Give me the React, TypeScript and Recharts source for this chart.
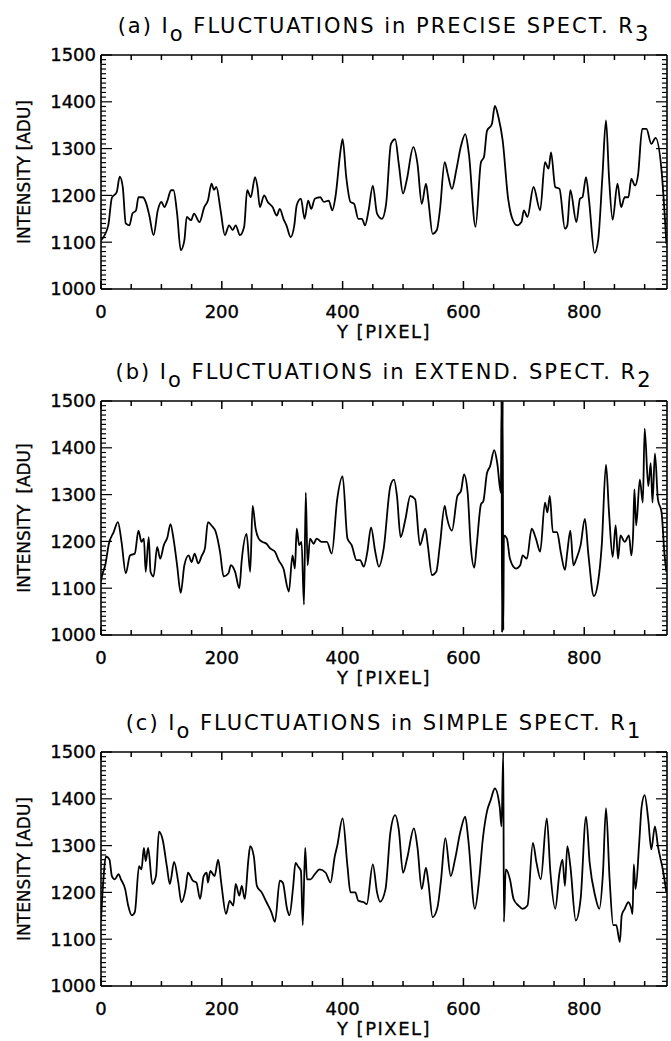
import React from 'react';
import { LineChart, Line, XAxis, YAxis } from 'recharts';

// --- DATA ---
const pixelA = [
  0, 12, 18, 26, 31, 36, 41, 47, 52, 58, 62, 69, 74, 80, 87, 94, 100, 105, 110, 116,
  120, 126, 132, 138, 142, 149, 154, 163, 171, 177, 183, 187, 191, 198, 205, 212, 218, 223, 230, 237,
  242, 248, 255, 259, 263, 270, 276, 284, 291, 296, 302, 307, 314, 320, 324, 331, 337, 343, 348, 354,
  363, 369, 377, 383, 388, 397, 400, 406, 413, 419, 426, 432, 437, 443, 450, 457, 465, 472, 480, 487,
  493, 500, 506, 517, 524, 531, 538, 542, 549, 556, 561, 569, 574, 581, 588, 596, 603, 609, 620, 629,
  634, 639, 647, 652, 658, 665, 674, 680, 689, 696, 700, 706, 716, 727, 735, 741, 745, 752, 759, 768,
  772, 777, 787, 793, 797, 803, 808, 817, 823, 830, 836, 841, 847, 855, 861, 867, 873, 878, 884, 889,
  896, 903, 911, 918, 928, 936,
];
const intensityA = [
  1104, 1136, 1195, 1207, 1240, 1218, 1140, 1136, 1161, 1168, 1196, 1196, 1186, 1157, 1115, 1168, 1186, 1175, 1189, 1211,
  1211, 1161, 1083, 1104, 1154, 1147, 1161, 1143, 1175, 1189, 1225, 1212, 1218, 1168, 1115, 1136, 1126, 1136, 1115, 1133,
  1211, 1196, 1239, 1218, 1175, 1200, 1186, 1175, 1157, 1171, 1150, 1136, 1111, 1136, 1179, 1193, 1150, 1189, 1171, 1193,
  1196, 1186, 1189, 1168, 1196, 1300, 1320, 1239, 1186, 1182, 1150, 1150, 1136, 1168, 1221, 1161, 1150, 1182, 1310, 1320,
  1267, 1204, 1232, 1303, 1267, 1182, 1225, 1189, 1118, 1126, 1168, 1271, 1246, 1214, 1253, 1306, 1331, 1289, 1133, 1271,
  1282, 1338, 1352, 1391, 1367, 1317, 1193, 1154, 1136, 1143, 1168, 1154, 1218, 1168, 1271, 1257, 1292, 1218, 1214, 1129,
  1136, 1211, 1143, 1193, 1196, 1239, 1189, 1077, 1104, 1239, 1360, 1239, 1148, 1225, 1175, 1196, 1196, 1235, 1221, 1243,
  1342, 1342, 1310, 1323, 1253, 1097,
];

const pixelB = [
  0, 2, 7, 13, 21, 28, 34, 41, 48, 56, 62, 67, 71, 74, 79, 82, 87, 93, 98, 104,
  110, 115, 120, 126, 132, 138, 145, 150, 155, 161, 167, 172, 177, 183, 190, 197, 203, 211, 215, 222,
  229, 233, 241, 247, 251, 256, 261, 267, 274, 280, 288, 294, 302, 311, 317, 321, 324, 328, 332, 336,
  339, 342, 346, 352, 357, 365, 374, 382, 391, 400, 408, 415, 423, 429, 435, 441, 447, 454, 460, 468,
  479, 485, 490, 496, 504, 512, 520, 528, 537, 541, 548, 555, 561, 569, 572, 581, 590, 596, 601, 607,
  612, 618, 622, 629, 633, 639, 644, 651, 656, 662, 663, 664, 665, 666, 667, 672, 677, 687, 694, 698,
  705, 713, 720, 727, 735, 739, 743, 748, 755, 761, 768, 772, 777, 782, 787, 794, 801, 807, 816, 823,
  829, 836, 841, 847, 852, 856, 860, 867, 874, 878, 881, 883, 886, 892, 897, 900, 906, 910, 913, 917,
  922, 928, 933, 936,
];
const intensityB = [
  1115, 1128, 1149, 1195, 1220, 1241, 1199, 1132, 1170, 1174, 1223, 1199, 1206, 1135, 1209, 1135, 1125, 1188, 1163, 1192,
  1209, 1237, 1206, 1149, 1090, 1149, 1170, 1156, 1174, 1153, 1170, 1185, 1241, 1234, 1220, 1178, 1125, 1132, 1149, 1135,
  1100, 1160, 1216, 1135, 1276, 1227, 1206, 1199, 1195, 1185, 1178, 1160, 1142, 1093, 1170, 1142, 1227, 1192, 1199, 1065,
  1304, 1149, 1206, 1195, 1206, 1199, 1199, 1174, 1290, 1339, 1206, 1192, 1160, 1160, 1146, 1178, 1230, 1178, 1146, 1185,
  1318, 1332, 1297, 1209, 1248, 1297, 1290, 1192, 1227, 1192, 1128, 1135, 1192, 1276, 1255, 1223, 1297, 1308, 1343, 1304,
  1192, 1144, 1192, 1279, 1286, 1346, 1360, 1395, 1367, 1304, 1500, 1005, 1500, 1010, 1213, 1206, 1163, 1142, 1149, 1170,
  1163, 1227, 1206, 1178, 1283, 1262, 1297, 1220, 1220, 1178, 1139, 1178, 1223, 1149, 1163, 1192, 1248, 1170, 1083, 1114,
  1192, 1364, 1262, 1167, 1234, 1163, 1213, 1199, 1213, 1170, 1220, 1311, 1234, 1332, 1283, 1441, 1318, 1367, 1283, 1388,
  1290, 1262, 1170, 1135,
];

const pixelC = [
  0, 4, 8, 14, 18, 23, 29, 33, 40, 45, 51, 56, 63, 67, 71, 74, 78, 85, 91, 96,
  102, 109, 114, 121, 128, 133, 140, 144, 152, 158, 164, 170, 175, 177, 181, 188, 194, 199, 207, 213,
  219, 223, 229, 233, 238, 244, 247, 253, 258, 266, 274, 282, 288, 296, 301, 308, 312, 318, 322, 326,
  331, 334, 338, 341, 347, 354, 362, 372, 380, 387, 391, 400, 408, 413, 421, 426, 435, 440, 450, 457,
  462, 471, 479, 487, 493, 500, 507, 518, 524, 531, 538, 542, 549, 557, 563, 570, 579, 586, 595, 603,
  608, 619, 626, 632, 639, 645, 652, 660, 663, 666, 667, 670, 677, 683, 691, 698, 706, 715, 721, 728,
  738, 744, 752, 759, 764, 768, 772, 777, 786, 794, 803, 809, 818, 825, 831, 836, 842, 848, 853, 859,
  862, 867, 873, 878, 880, 882, 885, 891, 895, 900, 906, 911, 917, 922, 931, 936,
];
const intensityC = [
  1140, 1228, 1277, 1270, 1235, 1228, 1239, 1228, 1207, 1172, 1151, 1158, 1256, 1249, 1295, 1267, 1295, 1218, 1235, 1330,
  1313, 1256, 1218, 1265, 1221, 1179, 1207, 1242, 1225, 1221, 1186, 1235, 1242, 1221, 1246, 1235, 1270, 1221, 1154, 1182,
  1172, 1218, 1193, 1214, 1186, 1270, 1299, 1277, 1214, 1200, 1179, 1158, 1137, 1225, 1221, 1165, 1151, 1211, 1263, 1256,
  1246, 1130, 1295, 1228, 1228, 1239, 1249, 1242, 1221, 1277, 1299, 1358, 1256, 1200, 1200, 1182, 1179, 1175, 1260, 1200,
  1180, 1207, 1327, 1365, 1334, 1242, 1274, 1337, 1295, 1207, 1253, 1221, 1147, 1168, 1228, 1316, 1235, 1270, 1330, 1362,
  1313, 1165, 1228, 1313, 1373, 1397, 1422, 1383, 1341, 1500, 1137, 1249, 1228, 1186, 1172, 1165, 1172, 1306, 1263, 1228,
  1358, 1242, 1165, 1242, 1270, 1214, 1299, 1256, 1140, 1186, 1362, 1263, 1193, 1165, 1242, 1380, 1228, 1130, 1130, 1094,
  1151, 1165, 1179, 1165, 1154, 1260, 1207, 1306, 1383, 1408, 1355, 1292, 1341, 1299, 1242, 1200,
];

const xTicks = [0, 50, 100, 150, 200, 250, 300, 350, 400, 450, 500, 550, 600, 650, 700, 750, 800, 850, 900];
const xLabelStep = 200;
const yLabels = [1000, 1100, 1200, 1300, 1400, 1500];
const yMinorStep = 10;
const yTicks = Array.from({ length: 51 }, (_, i) => 1000 + i * yMinorStep);

const FONT = '"DejaVu Sans", Verdana, sans-serif';
const W = 671;
const PANEL_H = 347;
const PLOT_H = 234;
const LEFT = 101;
const RIGHT = 4;
const TOP_AXIS_H = 10;
const TICK_W = 1.5;

// tick marks point into the plot, as in the IDL original
const BottomTick = (p: any) => {
  const v = p.payload.value;
  const major = v % xLabelStep === 0;
  return (
    <g>
      <path d={`M${p.x},${p.y}v${-(major ? 8 : 5)}`} stroke="#000" strokeWidth={TICK_W} fill="none" />
      {major && (
        <text x={p.x} y={p.y + 29} textAnchor="middle" fontSize={18} fontFamily={FONT} fill="#000" stroke="#000" strokeWidth={0.35}>
          {v}
        </text>
      )}
    </g>
  );
};

const TopTick = (p: any) => {
  const major = p.payload.value % xLabelStep === 0;
  return <path d={`M${p.x},${p.y}v${major ? 8 : 5}`} stroke="#000" strokeWidth={TICK_W} fill="none" />;
};

const LeftTick = (p: any) => {
  const v = p.payload.value;
  const major = yLabels.includes(v);
  return (
    <g>
      <path d={`M${p.x},${p.y}h${major ? 11 : 5}`} stroke="#000" strokeWidth={1.2} fill="none" />
      {major && (
        <text x={p.x - 5} y={p.y} dy="0.36em" textAnchor="end" fontSize={18} fontFamily={FONT} fill="#000" stroke="#000" strokeWidth={0.35}>
          {v}
        </text>
      )}
    </g>
  );
};

const RightTick = (p: any) => {
  const major = yLabels.includes(p.payload.value);
  return <path d={`M${p.x},${p.y}h${-(major ? 11 : 5)}`} stroke="#000" strokeWidth={1.2} fill="none" />;
};

interface PanelProps {
  letter: string;
  name: string;
  sub: string;
  yTitle: string;
  pixels: number[];
  values: number[];
  offset: number;
  plotTop: number;
}

const Panel: React.FC<PanelProps> = ({ letter, name, sub, yTitle, pixels, values, offset, plotTop }) => {
  const data = pixels.map((x, i) => ({ x, y: values[i] }));
  const mTop = plotTop - offset;
  const bottomH = PANEL_H - mTop - PLOT_H;
  const cx = LEFT + (W - LEFT - RIGHT) / 2;
  const frame = { stroke: '#000', strokeWidth: 1.6 };
  return (
    <div style={{ position: 'absolute', left: 0, top: offset, width: W, height: PANEL_H }}>
      <LineChart width={W} height={PANEL_H} data={data} margin={{ top: mTop - TOP_AXIS_H, right: 0, bottom: 0, left: 0 }}>
        <XAxis
          xAxisId="b"
          dataKey="x"
          type="number"
          domain={[0, 937]}
          allowDataOverflow
          ticks={xTicks}
          interval={0}
          height={bottomH}
          tickSize={0}
          tickMargin={0}
          tickLine={false}
          axisLine={frame}
          tick={<BottomTick />}
        />
        <XAxis
          xAxisId="t"
          orientation="top"
          dataKey="x"
          type="number"
          domain={[0, 937]}
          allowDataOverflow
          ticks={xTicks}
          interval={0}
          height={TOP_AXIS_H}
          tickSize={0}
          tickMargin={0}
          tickLine={false}
          axisLine={frame}
          tick={<TopTick />}
        />
        <YAxis
          yAxisId="l"
          type="number"
          domain={[1000, 1500]}
          allowDataOverflow
          ticks={yTicks}
          interval={0}
          width={LEFT}
          tickSize={0}
          tickMargin={0}
          tickLine={false}
          axisLine={frame}
          tick={<LeftTick />}
        />
        <YAxis
          yAxisId="r"
          orientation="right"
          type="number"
          domain={[1000, 1500]}
          allowDataOverflow
          ticks={yTicks}
          interval={0}
          width={RIGHT}
          tickSize={0}
          tickMargin={0}
          tickLine={false}
          axisLine={frame}
          tick={<RightTick />}
        />
        <Line
          xAxisId="b"
          yAxisId="l"
          type="monotone"
          dataKey="y"
          stroke="#000"
          strokeWidth={1.8}
          dot={false}
          isAnimationActive={false}
        />
      </LineChart>
      <svg width={W} height={PANEL_H} style={{ position: 'absolute', left: 0, top: 0, pointerEvents: 'none' }}>
        <text x={cx} y={mTop - 22} textAnchor="middle" fontSize={21} letterSpacing={2} fontFamily={FONT} fill="#000">
          {`(${letter}) I`}
          <tspan dy={8}>o</tspan>
          <tspan dy={-8}>{` FLUCTUATIONS in ${name} SPECT. R`}</tspan>
          <tspan dy={8}>{sub}</tspan>
        </text>
        <text x={cx} y={mTop + PLOT_H + 49} textAnchor="middle" fontSize={18} letterSpacing={1.5} fontFamily={FONT} fill="#000" stroke="#000" strokeWidth={0.3}>
          Y [PIXEL]
        </text>
        <text
          transform={`translate(30, ${mTop + PLOT_H / 2}) rotate(-90)`}
          textAnchor="middle"
          fontSize={17}
          fontFamily={FONT}
          fill="#000"
          stroke="#000"
          strokeWidth={0.3}
          style={{ whiteSpace: 'pre' }}
        >
          {yTitle}
        </text>
      </svg>
    </div>
  );
};

export default function App() {
  return (
    <div style={{ position: 'absolute', left: 0, top: 0, width: W, height: 1041, background: '#fff' }}>
      <Panel letter="a" name="PRECISE" sub="3" yTitle="INTENSITY [ADU]" pixels={pixelA} values={intensityA} offset={0} plotTop={55} />
      <Panel letter="b" name="EXTEND." sub="2" yTitle="INTENSITY  [ADU]" pixels={pixelB} values={intensityB} offset={347} plotTop={401} />
      <Panel letter="c" name="SIMPLE" sub="1" yTitle="INTENSITY [ADU]" pixels={pixelC} values={intensityC} offset={694} plotTop={752} />
    </div>
  );
}
